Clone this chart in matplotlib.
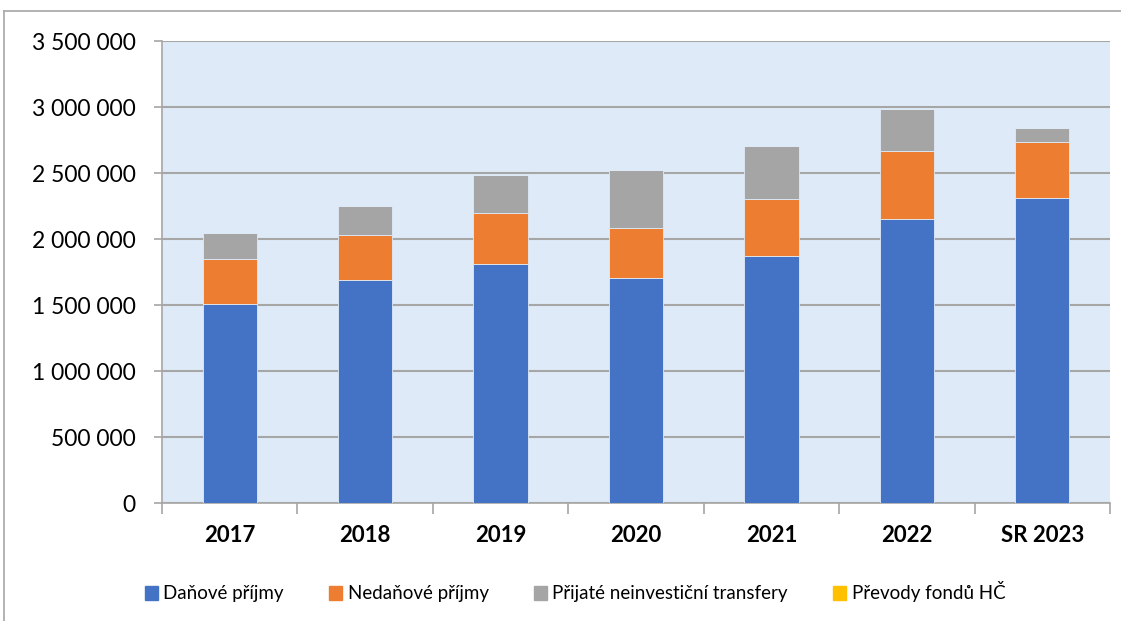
import matplotlib
matplotlib.use("Agg")
import matplotlib.pyplot as plt
from matplotlib.patches import Rectangle
from matplotlib.lines import Line2D
import numpy as np

categories = ["2017", "2018", "2019", "2020", "2021", "2022", "SR 2023"]
danove = [1505000, 1690000, 1814000, 1707000, 1870000, 2148000, 2308000]
nedanove = [347000, 342000, 383000, 376000, 433000, 521000, 429000]
transfery = [190000, 221000, 289000, 436000, 401000, 314000, 107000]
prevody = [0, 0, 0, 0, 0, 0, 0]
series_names = ["Daňové příjmy", "Nedaňové příjmy", "Přijaté neinvestiční transfery", "Převody fondů HČ"]
colors = ["#4472C4", "#ED7D31", "#A5A5A5", "#FFC000"]
yticks = [0, 500000, 1000000, 1500000, 2000000, 2500000, 3000000, 3500000]

plt.rcParams['font.family'] = ['Lato', 'DejaVu Sans']

fig = plt.figure(figsize=(11.21, 6.21), dpi=100)
W, H = 1121, 621
ax = fig.add_axes([162 / W, 1 - 503 / H, 948 / W, (503 - 41) / H])
ax.set_facecolor("#DEEAF7")

x = np.arange(len(categories))
bottom = np.zeros(len(categories))
for vals, col, name in zip([danove, nedanove, transfery, prevody], colors, series_names):
    ax.bar(x, vals, 0.4, bottom=bottom, color=col, label=name, zorder=3,
           edgecolor="#DEEAF7", linewidth=0.6)
    bottom += np.array(vals)

ax.set_xlim(-0.5, len(categories) - 0.5)
ax.set_ylim(0, 3500000)
ax.set_yticks(yticks)
ax.set_yticklabels([f"{v:,}".replace(",", " ") for v in yticks], fontsize=16.5)
ax.set_xticks(x)
ax.set_xticklabels(categories, fontsize=16, fontweight="bold")
ax.tick_params(axis="x", length=0, pad=16)
ax.tick_params(axis="y", length=6, color="#A6A6A6", width=1.2, pad=13)
ax.set_xticks(np.arange(-0.5, len(categories), 1), minor=True)
ax.tick_params(axis="x", which="minor", length=8, color="#A6A6A6", width=1.2)

ax.grid(axis="y", color="#A6A6A6", linewidth=1.5, zorder=1)
for s in ["top", "right"]:
    ax.spines[s].set_visible(False)
ax.spines["left"].set_color("#A6A6A6")
ax.spines["left"].set_linewidth(1.2)
ax.spines["bottom"].set_color("#A6A6A6")
ax.spines["bottom"].set_linewidth(1.2)

handles = [Rectangle((0, 0), 1, 1, color=c) for c in colors]
fig.legend(handles, series_names, loc="center", bbox_to_anchor=(575 / W, 1 - 592 / H),
           ncol=4, frameon=False, fontsize=13.5, handlelength=0.7, handleheight=0.7,
           handletextpad=0.3, columnspacing=2.4)

# outer chart frame (partially visible)
fig.add_artist(Line2D([4 / W, 1.0], [1 - 11 / H, 1 - 11 / H], color="#A6A6A6", linewidth=1.2))
fig.add_artist(Line2D([4 / W, 4 / W], [0, 1 - 11 / H], color="#A6A6A6", linewidth=1.2))

fig.savefig("out.png", dpi=100)
